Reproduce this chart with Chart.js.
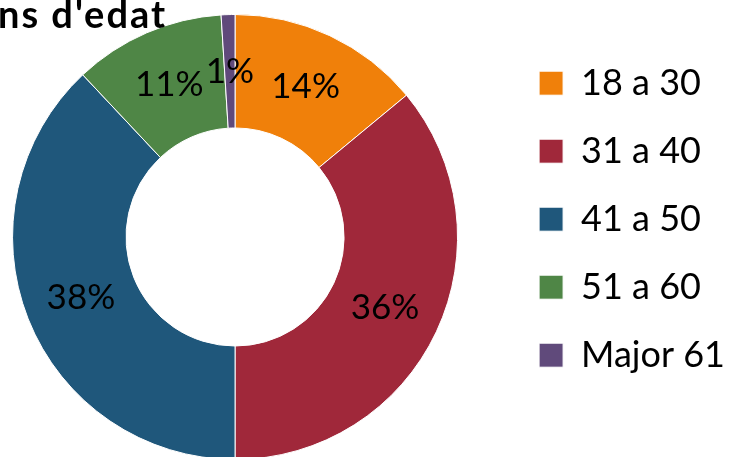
<!DOCTYPE html>
<html>
<head>
<meta charset="utf-8">
<script src="https://cdn.jsdelivr.net/npm/chart.js@4.4.1/dist/chart.umd.min.js"></script>
<style>
    html, body { margin: 0; padding: 0; background: #fff; overflow: hidden; }
    #wrap { position: relative; width: 735px; height: 457px; overflow: hidden; }
    #ages { position: absolute; left: -37px; top: 0; }
</style>
</head>
<body>
<div id="wrap">
    <canvas id="ages" width="772" height="470"></canvas>
</div>
<script>
const SHIFT = 37; // el canvas comença 37px a l'esquerra de la pàgina
const labels = ["18 a 30", "31 a 40", "41 a 50", "51 a 60", "Major 61"];
const values = [14, 36, 38, 11, 1];
const colors = ["#F0800A", "#A0283A", "#1F577B", "#4F8646", "#604A7B"];
const titleText = "ns d'edat";

const FONT = "Lato, 'Open Sans', sans-serif";

// etiquetes de percentatge dins de cada sector + títol retallat
const pctLabels = {
    id: "pctLabels",
    afterDatasetsDraw(chart) {
        const ctx = chart.ctx;
        const meta = chart.getDatasetMeta(0);
        ctx.save();
        ctx.font = "35px " + FONT;
        ctx.fillStyle = "#000";
        ctx.textAlign = "center";
        ctx.textBaseline = "middle";
        meta.data.forEach((arc, i) => {
            const p = arc.tooltipPosition();
            ctx.fillText(values[i] + "%", p.x, p.y);
        });
        ctx.restore();
    },
    afterDraw(chart) {
        const ctx = chart.ctx;
        ctx.save();
        ctx.font = "bold 38px " + FONT;
        ctx.letterSpacing = "2px";
        ctx.fillStyle = "#000";
        ctx.textAlign = "left";
        ctx.textBaseline = "alphabetic";
        ctx.fillText(titleText, SHIFT - 2, 28);
        ctx.restore();
    }
};

new Chart(document.getElementById("ages"), {
    type: "doughnut",
    data: {
        labels: labels,
        datasets: [{
            data: values,
            backgroundColor: colors,
            borderColor: "#ffffff",
            borderWidth: 1
        }]
    },
    options: {
        responsive: false,
        animation: false,
        cutout: "49%",
        layout: {
            padding: { left: 0, top: 14, right: 0, bottom: 10 }
        },
        plugins: {
            tooltip: { enabled: false },
            legend: {
                position: "right",
                align: "start",
                title: { display: true, text: "", font: { size: 16 }, padding: 0 },
                labels: {
                    boxWidth: 24,
                    boxHeight: 24,
                    padding: 32,
                    color: "#000",
                    font: { family: FONT, size: 36 }
                }
            }
        }
    },
    plugins: [pctLabels]
});
</script>
</body>
</html>
